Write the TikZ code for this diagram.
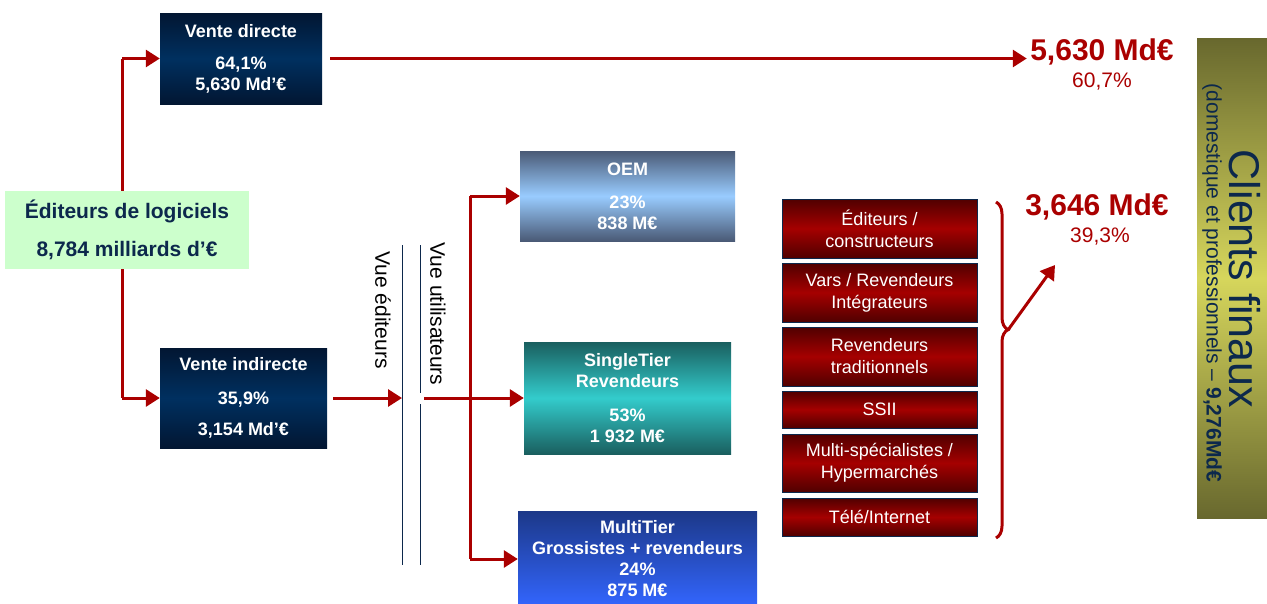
\documentclass[tikz,border=0pt]{standalone}
\usepackage{fontspec}
\setmainfont{Liberation Sans}
\usepackage{tikz}
\usetikzlibrary{arrows.meta,decorations.pathreplacing,backgrounds}

\definecolor{flowred}{RGB}{170,0,0}
\definecolor{navydark}{RGB}{2,22,50}
\definecolor{navymid}{RGB}{0,48,96}
\definecolor{navytext}{RGB}{12,40,76}
\definecolor{paleGreen}{RGB}{204,255,204}
\definecolor{oemdark}{RGB}{74,90,118}
\definecolor{oemlight}{RGB}{153,204,255}
\definecolor{tealdark}{RGB}{26,95,95}
\definecolor{teallight}{RGB}{51,204,204}
\definecolor{multidark}{RGB}{28,56,136}
\definecolor{multilight}{RGB}{51,102,255}
\definecolor{reddark}{RGB}{80,0,0}
\definecolor{redmid}{RGB}{165,0,0}
\definecolor{olivedark}{RGB}{104,104,46}
\definecolor{olivelight}{RGB}{214,214,92}

\begin{document}
\begin{tikzpicture}[x=1pt,y=1pt,
	flow/.style={draw=flowred, line width=3pt},
	flowarrow/.style={flow, -{Triangle[length=14pt,width=17pt]}},
	box/.style={rectangle, inner sep=0pt, align=center, text=white,
		font=\fontsize{18}{21}\selectfont\bfseries},
	navybox/.style={box, top color=navydark, bottom color=navydark, middle color=navymid},
	chanbox/.style={rectangle, inner sep=0pt, align=center, text=white,
		draw=navytext, line width=0.6pt,
		top color=reddark, bottom color=reddark, middle color=redmid,
		minimum width=195pt, font=\fontsize{18}{22}\selectfont},
	vueline/.style={draw=navytext, line width=1pt},
	vuelabel/.style={rotate=-90, font=\fontsize{21}{23}\selectfont},
	amount/.style={text=flowred, font=\fontsize{30}{32}\selectfont\bfseries},
	share/.style={text=flowred, font=\fontsize{21}{23}\selectfont}
	]
	\useasboundingbox (0,0) rectangle (1267,-603);
	
	%source
	\node[rectangle, fill=paleGreen, minimum width=244pt, minimum height=78pt, inner sep=0pt,
		align=center, text=navytext, font=\fontsize{21}{38}\selectfont\bfseries]
		(edit) at (127,-230) {Éditeurs de logiciels\\8,784 milliards d’€};
	
	%direct / indirect
	\node[navybox, minimum width=162pt, minimum height=91pt] (vd) at (241,-58.5)
		{Vente directe\\[11pt]64,1\%\\5,630 Md’€};
	\node[navybox, minimum width=167pt, minimum height=100pt] (vi) at (243.5,-398)
		{Vente indirecte\\[13pt]35,9\%\\[10pt]3,154 Md’€};
	
	\coordinate (ja) at (122,-58.5);
	\coordinate (jb) at (122,-398);
	\begin{pgfonlayer}{background}
		\draw[flow] (ja) -- (jb);
	\end{pgfonlayer}
	\draw[flowarrow] (ja) -- (vd.west);
	\draw[flowarrow] (jb) -- (vi.west);
	
	%views
	\coordinate (ve) at (402,-398);
	\coordinate (vu) at (424,-398);
	\draw[vueline] (402,-245) -- (402,-565);
	\draw[vueline] (420,-245) -- (420,-393);
	\draw[vueline] (420,-404) -- (420,-565);
	\node[vuelabel] (lve) at (383,-310) {Vue éditeurs};
	\node[vuelabel] (lvu) at (438,-314) {Vue utilisateurs};
	\draw[flowarrow, shorten <=6pt] (vi.east) -- (ve);
	
	%channels
	\node[box, minimum width=215pt, minimum height=90pt,
		top color=oemdark, bottom color=oemdark, middle color=oemlight] (oem) at (627.5,-196)
		{OEM\\[12pt]23\%\\838 M€};
	\node[box, minimum width=207pt, minimum height=112pt,
		top color=tealdark, bottom color=tealdark, middle color=teallight] (st) at (627.5,-398)
		{SingleTier\\Revendeurs\\[13pt]53\%\\1 932 M€};
	\node[box, minimum width=239pt, minimum height=96pt,
		top color=multidark, bottom color=multilight] (mt) at (637.5,-559)
		{MultiTier\\Grossistes + revendeurs\\24\%\\875 M€};
	
	\coordinate (ka) at (470,-398);
	\draw[flow] (vu) -- (ka);
	\draw[flow] (oem.west -| ka) -- (mt.west -| ka);
	\draw[flowarrow] (oem.west -| ka) -- (oem.west);
	\draw[flowarrow] (ka) -- (st.west);
	\draw[flowarrow] (mt.west -| ka) -- (mt.west);
	
	%resellers
	\foreach \i/\yc/\h/\txt in {1/228.5/59/{Éditeurs /\\constructeurs},
		2/292.5/59/{Vars / Revendeurs\\Intégrateurs},
		3/356.5/59/{Revendeurs\\traditionnels},
		4/409.5/37/{SSII},
		5/463/58/{Multi-spécialistes /\\Hypermarchés},
		6/517/38/{Télé/Internet}}
		{
		\node[chanbox, minimum height=\h pt] (r\i) at (879.5,-\yc) {\txt};
		}
	
	%end customers
	\node[amount] (v1) at (1102,-52) {5,630 Md€};
	\node[share] (p1) at (1102,-82) {60,7\%};
	\node[amount] (v2) at (1097,-207) {3,646 Md€};
	\node[share] (p2) at (1100,-237) {39,3\%};
	\draw[flowarrow, shorten <=8pt] (vd.east) -- (vd.east -| v1.west);
	
	\coordinate (bra) at (996,-202);
	\coordinate (brb) at (996,-538);
	\coordinate (brt) at (1008,-330);
	\coordinate (brend) at (1055,-265);
	\draw[flow, decorate, decoration={brace, amplitude=12pt, aspect=0.38}] (bra) -- (brb);
	\draw[flowarrow] (brt) -- (brend);
	
	\node[rectangle, inner sep=0pt, minimum width=70pt, minimum height=480pt,
		top color=olivedark, bottom color=olivedark, middle color=olivelight] (cf) at (1232,-278) {};
	\node[rotate=-90, text=navytext, inner sep=0pt, font=\fontsize{43}{45}\selectfont]
		(cft) at (1245,-279) {Clients finaux};
	\node[rotate=-90, text=navytext, inner sep=0pt, font=\fontsize{21}{23}\selectfont]
		(cfs) at (1212,-283) {(domestique et professionnels – \textbf{9,276Md€}};
\end{tikzpicture}
\end{document}
